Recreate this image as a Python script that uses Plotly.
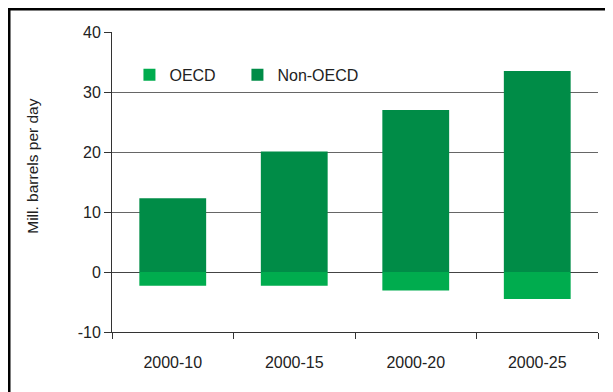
import plotly.graph_objects as go

# ── Data ─────────────────────────────────────────────────────────────────────
periods   = ["2000-10", "2000-15", "2000-20", "2000-25"]
oecd      = [-2.3, -2.3, -3.1, -4.5]
non_oecd  = [12.3, 20.1, 27.0, 33.5]

y_ticks      = [-10, 0, 10, 20, 30, 40]
y_tick_text  = ["-10", "0", "10", "20", "30", "40"]

OECD_GREEN     = "#00AC4E"
NON_OECD_GREEN = "#008C47"
TEXT           = "#222222"
FONT           = "Arial, Liberation Sans, sans-serif"

LEGEND_STYLE = dict(orientation="h", y=0.857, xanchor="left", yanchor="middle",
                    bgcolor="rgba(0,0,0,0)", font=dict(size=16, color=TEXT),
                    itemwidth=30)

fig = go.Figure()
fig.add_trace(go.Bar(x=periods, y=oecd, name="OECD", legend="legend",
                     marker=dict(color=OECD_GREEN, line=dict(width=0))))
fig.add_trace(go.Bar(x=periods, y=non_oecd, name="Non-OECD", legend="legend2",
                     marker=dict(color=NON_OECD_GREEN, line=dict(width=0))))

# page body adds an 8px margin, so the figure is shifted to compensate
fig.update_layout(
    width=605, height=384,
    paper_bgcolor="white", plot_bgcolor="white",
    font=dict(family=FONT, size=16, color=TEXT),
    margin=dict(l=104, r=15, t=24, b=60),
    barmode="relative",
    bargap=0.45,
    showlegend=True,
    legend=dict(x=0.0359, **LEGEND_STYLE),
    legend2=dict(x=0.2581, **LEGEND_STYLE),
    xaxis=dict(type="category", showgrid=False, showline=True, linecolor="#333", linewidth=1,
               ticks="outside", tickson="boundaries", ticklen=6, tickcolor="#333",
               ticklabelstandoff=16,
               tickfont=dict(size=16, color=TEXT)),
    yaxis=dict(range=[-10, 40], tickvals=y_ticks, ticktext=y_tick_text,
               showgrid=True, gridcolor="#666", gridwidth=1,
               zeroline=True, zerolinecolor="#444", zerolinewidth=1,
               showline=True, linecolor="#333", linewidth=1,
               ticks="outside", ticklen=7, tickcolor="#333",
               tickfont=dict(size=16, color=TEXT)),
    annotations=[dict(text="Mill. barrels per day", xref="paper", yref="paper",
                      x=-0.1626, y=0.554, xanchor="center", yanchor="middle",
                      textangle=-90, showarrow=False,
                      font=dict(size=15.5, color=TEXT))],
    shapes=[dict(type="path", xref="paper", yref="paper",
                 path="M -0.2114,-0.3 L -0.2114,1.0758 L 1.1,1.0758",
                 line=dict(color="black", width=2.5))],
)

fig.write_html("out.html")
